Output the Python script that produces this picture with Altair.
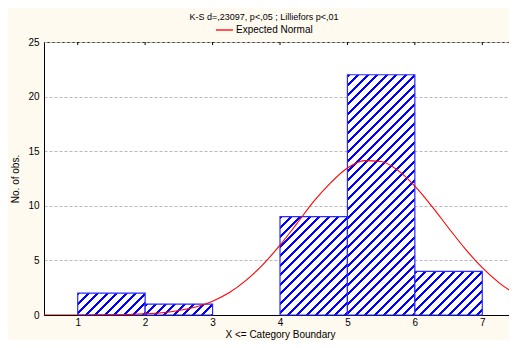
import altair as alt
import pandas as pd

# ---- data ----
bin_start = [1, 2, 3, 4, 5, 6]
bin_end = [2, 3, 4, 5, 6, 7]
counts = [2, 1, 0, 9, 22, 4]

curve_x = [0.5, 0.75, 1.0, 1.25, 1.5, 1.75, 2.0, 2.25, 2.5, 2.75, 3.0, 3.25, 3.5, 3.75,
           4.0, 4.25, 4.5, 4.75, 5.0, 5.25, 5.5, 5.75, 6.0, 6.25, 6.5, 6.75, 7.0, 7.25, 7.5]
curve_y = [0.0, 0.0, 0.0, 0.01, 0.02, 0.05, 0.11, 0.21, 0.41, 0.74, 1.27, 2.06, 3.2, 4.64,
           6.4, 8.37, 10.4, 12.1, 13.46, 14.14, 14.06, 13.24, 11.8, 9.97, 7.97, 6.03, 4.33, 2.94, 1.89]

x_ticks = [1, 2, 3, 4, 5, 6, 7]
y_ticks = [0, 5, 10, 15, 20, 25]

title_text = "K-S d=,23097, p<,05 ; Lilliefors p<,01"
legend_text = "Expected Normal"
x_title = "X <= Category Boundary"
y_title = "No. of obs."

# ---- layout / style ----
W, H = 472, 273
X_DOM = [0.5, 7.5]
Y_DOM = [0, 25]
FONT = "Liberation Sans"
BLUE = "#0000FF"
BG = "#FFFAF0"

xscale = alt.Scale(domain=X_DOM, nice=False, zero=False)
yscale = alt.Scale(domain=Y_DOM, nice=False)

xaxis = alt.Axis(values=x_ticks, grid=False, tickSize=0, ticks=False, labelPadding=2,
                 title=x_title, titleY=19, titleBaseline="middle", titleFontWeight="normal",
                 titleFontSize=10, labelFontSize=10, domainColor="#000000",
                 labelColor="#000000", titleColor="#000000", labelFont=FONT, titleFont=FONT)
yaxis = alt.Axis(values=y_ticks, grid=True, gridDash=[3, 2], gridColor="#b8b8b8",
                 tickSize=0, ticks=False, labelPadding=5, title=y_title, titleX=-29,
                 titleY=H / 2, titleAngle=270, titleAlign="center", titleBaseline="middle",
                 titleFontWeight="normal", titleFontSize=10, labelFontSize=10,
                 domainColor="#000000", labelColor="#000000", titleColor="#000000",
                 labelFont=FONT, titleFont=FONT)


def stripe_gradient(w, h, period=9.5, stripe=3.0):
    # diagonal "/" stripes at 45 degrees in an objectBoundingBox gradient
    k = (w + h) / (w * w + h * h)
    total = w + h
    stops = []
    pos = 0.0
    while pos < total:
        a = pos / total
        b = min((pos + stripe) / total, 1.0)
        c = min((pos + period) / total, 1.0)
        stops += [alt.GradientStop(color=BLUE, offset=a),
                  alt.GradientStop(color=BLUE, offset=b),
                  alt.GradientStop(color="#FFFFFF", offset=b),
                  alt.GradientStop(color="#FFFFFF", offset=c)]
        pos += period
    return alt.LinearGradient(gradient="linear", stops=stops,
                              x1=0, y1=0, x2=k * w, y2=k * h)


layers = []
for s, e, c in zip(bin_start, bin_end, counts):
    if c == 0:
        continue
    w = (e - s) * W / (X_DOM[1] - X_DOM[0])
    h = c * H / (Y_DOM[1] - Y_DOM[0])
    df = pd.DataFrame({"x_start": [s], "x_end": [e], "count": [c], "base": [0]})
    layers.append(
        alt.Chart(df).mark_rect(fill=stripe_gradient(w, h), stroke="#2a2aff", strokeWidth=1.2)
        .encode(x=alt.X("x_start:Q", scale=xscale, axis=xaxis),
                x2="x_end:Q",
                y=alt.Y("count:Q", scale=yscale, axis=yaxis),
                y2="base:Q")
    )

curve_df = pd.DataFrame({"x_start": curve_x, "count": curve_y})
curve = alt.Chart(curve_df).mark_line(color="#FF0000", strokeWidth=1.1, interpolate="monotone",
                                      clip=True).encode(
    x=alt.X("x_start:Q", scale=xscale, axis=xaxis),
    y=alt.Y("count:Q", scale=yscale, axis=yaxis),
)

tick_df = pd.DataFrame({"x_start": x_ticks})
top_ticks = alt.Chart(tick_df).mark_rule(color="#000000", strokeWidth=1).encode(
    x=alt.X("x_start:Q", scale=xscale, axis=xaxis),
    y=alt.value(0), y2=alt.value(3),
)

one = pd.DataFrame({"a": [0]})
legend_line = alt.Chart(one).mark_rule(color="#FF3030", strokeWidth=1.6).encode(
    x=alt.value(172), x2=alt.value(189), y=alt.value(-12))
legend_label = alt.Chart(one).mark_text(align="left", baseline="middle", font=FONT,
                                        fontSize=10, color="#000000").encode(
    x=alt.value(192), y=alt.value(-12), text=alt.value(legend_text))
title = alt.Chart(one).mark_text(align="center", baseline="middle", font=FONT,
                                 fontSize=9, color="#000000").encode(
    x=alt.value(220), y=alt.value(-25), text=alt.value(title_text))

chart = alt.layer(*layers, curve, top_ticks, legend_line, legend_label, title).properties(
    width=W, height=H,
    autosize=alt.AutoSizeParams(type="none"),
    padding={"left": 36, "top": 34, "right": -7, "bottom": 25},
    background=BG,
).configure_view(fill="#FFFFFF", stroke="#333333", strokeWidth=1)

chart.save("out.html", embed_options={"renderer": "svg", "actions": False})
